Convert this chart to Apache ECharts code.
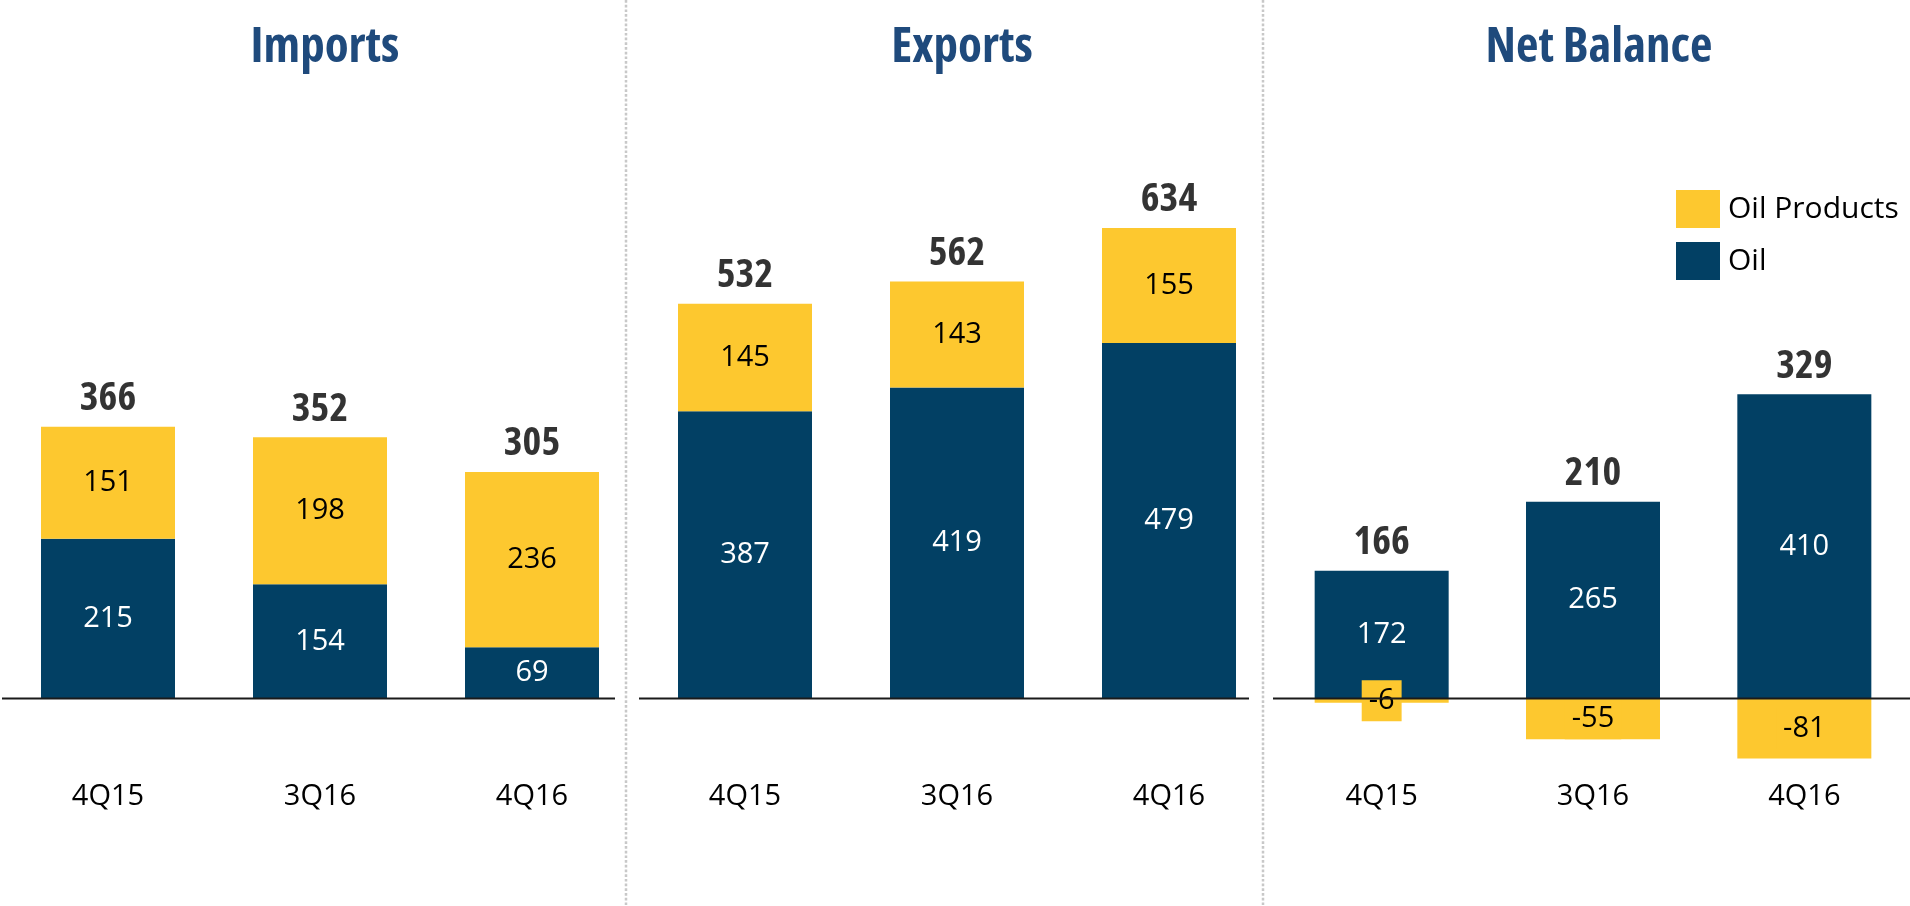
<!DOCTYPE html>
<html>
<head>
<meta charset="utf-8">
<title>Imports, Exports and Net Balance</title>
<script src="https://cdn.jsdelivr.net/npm/echarts@6/dist/echarts.min.js"></script>
<style>
  html, body { margin: 0; padding: 0; background: #fff; }
  #chart { width: 1910px; height: 906px; }
</style>
</head>
<body>
<div id="chart"></div>
<script>
// Quarterly volumes, split into crude oil and oil products
const categories = ['4Q15', '3Q16', '4Q16'];
const panelTitles = ['Imports', 'Exports', 'Net Balance'];
const seriesNames = ['Oil', 'Oil Products'];

const importsOil = [215, 154, 69];
const importsProducts = [151, 198, 236];
const exportsOil = [387, 419, 479];
const exportsProducts = [145, 143, 155];
const netOil = [172, 265, 410];
const netProducts = [-6, -55, -81];

const NAVY = '#024064';
const YELLOW = '#FDC82F';
const TITLE_BLUE = '#1F4A7C';
const FONT = "'Open Sans', 'Noto Sans', sans-serif";

const panels = [
  { oil: importsOil, products: importsProducts, left: 2 },
  { oil: exportsOil, products: exportsProducts, left: 639 },
  { oil: netOil, products: netProducts, left: 1276 }
];
const bandWidth = 636;
const gridTop = 179;
const gridHeight = 593.6;

const grids = [], xAxes = [], yAxes = [], series = [], titles = [];

panels.forEach((p, i) => {
  grids.push({ left: p.left, top: gridTop, width: bandWidth, height: gridHeight });
  xAxes.push({
    type: 'category', gridIndex: i, data: categories,
    axisLine: { show: false, onZero: false }, axisTick: { show: false },
    axisLabel: { color: '#000', fontFamily: FONT, fontSize: 29, margin: 10 }
  });
  yAxes.push({
    type: 'value', gridIndex: i, min: -100, max: 700,
    axisLine: { show: false }, axisTick: { show: false },
    axisLabel: { show: false }, splitLine: { show: false }
  });
  titles.push({
    text: panelTitles[i],
    left: p.left + bandWidth / 2, top: 19, textAlign: 'center',
    textStyle: { color: TITLE_BLUE, fontFamily: FONT, fontSize: 49, fontWeight: 'bold', fontStyle: 'semi-condensed' }
  });

  const stack = 'panel' + i;
  series.push({
    name: seriesNames[0], type: 'bar', stack, xAxisIndex: i, yAxisIndex: i,
    data: p.oil, barWidth: 134, itemStyle: { color: NAVY },
    label: { show: true, position: 'inside', color: '#fff', fontFamily: FONT, fontSize: 29 }
  });
  series.push({
    name: seriesNames[1], type: 'bar', stack, xAxisIndex: i, yAxisIndex: i,
    data: p.products, barWidth: 134, itemStyle: { color: YELLOW },
    label: Object.assign(
      { show: true, position: 'inside', color: '#000', fontFamily: FONT, fontSize: 29 },
      i === 2 ? { backgroundColor: YELLOW, padding: [6, 7] } : {}
    )
  });
  // Totals sit on top of the highest positive segment of each stack
  const totals = p.oil.map((v, k) => v + p.products[k]);
  series.push({
    type: 'scatter', xAxisIndex: i, yAxisIndex: i, symbolSize: 0, silent: true,
    data: p.oil.map((v, k) => [k, v + Math.max(p.products[k], 0)]),
    label: {
      show: true, position: 'top', distance: 8, color: '#000',
      fontFamily: FONT, fontSize: 40, fontWeight: 'bold', fontStyle: 'semi-condensed',
      formatter: (d) => String(totals[d.dataIndex])
    }
  });
});

const chart = echarts.init(document.getElementById('chart'), null, { renderer: 'canvas' });
chart.setOption({
  animation: false,
  backgroundColor: '#fff',
  title: titles,
  legend: {
    data: ['Oil Products', 'Oil'], orient: 'vertical',
    left: 1671, top: 185, itemWidth: 44, itemHeight: 38, itemGap: 14,
    icon: 'rect', selectedMode: false,
    textStyle: { color: '#000', fontFamily: FONT, fontSize: 30, padding: [0, 0, 0, 3] }
  },
  grid: grids, xAxis: xAxes, yAxis: yAxes, series
});

// Zero baselines under each panel and dotted dividers between panels
const zeroY = chart.convertToPixel({ yAxisIndex: 0 }, 0);
const baselineSpans = [[2, 615], [639, 1249], [1273, 1910]];
const dividers = [626, 1263];
const graphics = [];
baselineSpans.forEach(([x1, x2]) => {
  graphics.push({
    type: 'line', z: 100, silent: true,
    shape: { x1, y1: zeroY, x2, y2: zeroY },
    style: { stroke: '#1a1a1a', lineWidth: 2 }
  });
});
dividers.forEach((x) => {
  graphics.push({
    type: 'line', z: 100, silent: true,
    shape: { x1: x, y1: 0, x2: x, y2: 906 },
    style: { stroke: '#c8c8c8', lineWidth: 2.5, lineDash: [2.7, 2] }
  });
});
chart.setOption({ graphic: graphics });
</script>
</body>
</html>
